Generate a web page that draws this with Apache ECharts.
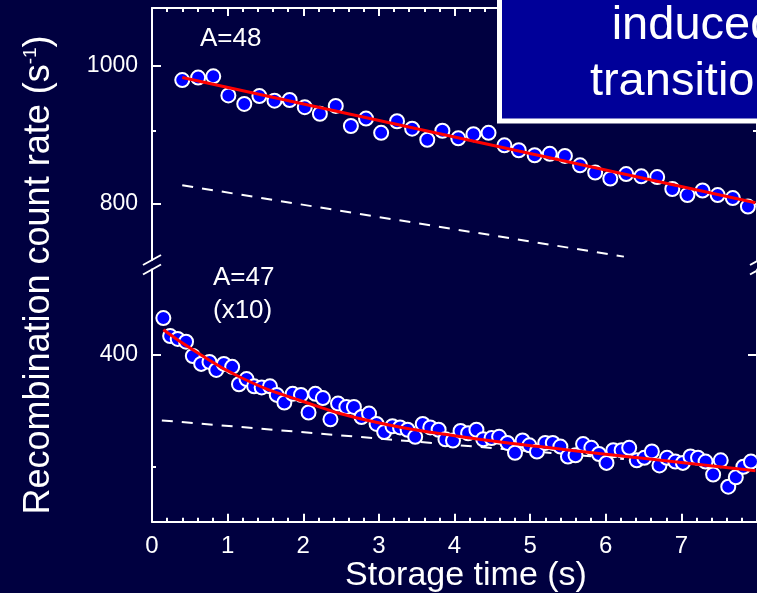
<!DOCTYPE html>
<html>
<head>
<meta charset="utf-8">
<script src="https://cdn.jsdelivr.net/npm/echarts@6/dist/echarts.min.js"></script>
<style>
  html, body { margin: 0; padding: 0; background: #000040; }
  #chart { width: 757px; height: 593px; }
</style>
</head>
<body>
<div id="chart"></div>
<script>
// ---- A=48: storage time (s) and recombination count rate (1/s)
const timeA48 = [0.40,0.61,0.81,1.01,1.22,1.42,1.62,1.82,2.02,2.22,2.43,2.63,2.83,3.03,3.24,3.44,3.64,3.84,4.05,4.25,
                 4.45,4.66,4.85,5.06,5.26,5.46,5.66,5.86,6.06,6.27,6.47,6.68,6.88,7.08,7.28,7.48,7.68,7.88];
const rateA48 = [977,981,983,953,940,952,945,946,935,925,937,907,918,897,914,903,887,900,889,895,
                 897,879,872,865,867,864,851,841,833,839,836,835,819,811,817,811,807,796];
// exponential fit (straight on the log scale) and the slow component
const fitTimeA48 = [0.40, 7.98];
const fitRateA48 = [981, 801];
const compTimeA48 = [0.40, 6.24];
const compRateA48 = [824, 734];

// ---- A=47, rates multiplied by 10
const timeA47 = [0.15,0.24,0.34,0.45,0.54,0.65,0.76,0.85,0.95,1.06,1.15,1.25,1.35,1.45,1.56,1.65,1.75,1.86,1.97,2.07,
                 2.16,2.26,2.36,2.46,2.57,2.67,2.77,2.87,2.97,3.07,3.18,3.28,3.38,3.48,3.58,3.68,3.79,3.88,3.98,4.08,
                 4.18,4.29,4.38,4.49,4.59,4.70,4.80,4.90,4.99,5.09,5.20,5.30,5.40,5.50,5.60,5.70,5.81,5.91,6.01,6.10,
                 6.21,6.31,6.41,6.51,6.61,6.71,6.81,6.92,7.02,7.12,7.22,7.32,7.42,7.52,7.62,7.72,7.82,7.92];
const rateA47 = [440,420,417,414,399,391,393,385,391,388,371,376,369,368,369,361,354,362,361,345,
                 362,358,339,353,350,350,341,344,335,328,333,332,330,324,335,332,330,322,321,329,
                 327,330,322,323,324,319,311,321,317,312,319,319,316,308,309,318,315,310,303,313,
                 313,315,305,307,312,301,307,304,303,308,307,304,294,305,285,292,300,304];
const fitTimeA47 = [0.15, 0.55, 1.16, 1.95, 2.92, 4.00, 5.12, 6.43, 7.98];
const fitRateA47 = [427, 405, 378, 356, 337, 325, 316, 307, 297];
const compTimeA47 = [0.13, 6.24];
const compRateA47 = [338, 306];

// ---- axes
const xMin = 0, xMax = 8, xStep = 1;
const topRange = [730, 1098];
const topMajor = [800, 1000];
const topMinor = [900];
const bottomRange = [260.4, 498.6];
const bottomMajor = [400];
const bottomMinor = [300];

const FONT = '"Liberation Sans", Arial, Helvetica, sans-serif';
const WHITE = '#ffffff';
const lg = Math.log10;
const pairs = (t, v) => t.map((x, i) => [x, lg(v[i])]);

const line2 = { color: WHITE, width: 2 };

function xAxisFor(gridIndex, position, showLabels) {
  return {
    type: 'value', gridIndex, position, min: xMin, max: xMax, interval: xStep,
    axisLine: { show: true, onZero: false, lineStyle: line2 },
    axisTick: { show: true, inside: true, length: 8, lineStyle: line2 },
    minorTick: { show: true, splitNumber: 5, length: 4, lineStyle: line2 },
    splitLine: { show: false }, minorSplitLine: { show: false },
    axisLabel: {
      show: showLabels, color: WHITE, fontSize: 24, fontFamily: FONT, margin: 13,
      showMaxLabel: false
    }
  };
}

function yAxesFor(gridIndex, range, major, minor) {
  const base = {
    type: 'value', gridIndex, min: lg(range[0]), max: lg(range[1]),
    splitLine: { show: false }
  };
  const ax = [];
  ['left', 'right'].forEach(pos => {
    ax.push(Object.assign({}, base, {
      position: pos,
      axisLine: { show: true, onZero: false, lineStyle: line2 },
      axisTick: { show: true, inside: true, length: 9, customValues: major.map(lg), lineStyle: line2 },
      axisLabel: {
        show: pos === 'left', customValues: major.map(lg), color: WHITE, fontSize: 23,
        fontFamily: FONT, margin: 14,
        formatter: v => String(Math.round(Math.pow(10, v)))
      }
    }));
    ax.push(Object.assign({}, base, {
      position: pos,
      axisLine: { show: false, onZero: false },
      axisTick: { show: true, inside: true, length: 4, customValues: minor.map(lg), lineStyle: line2 },
      axisLabel: { show: false }
    }));
  });
  return ax;
}

const yAxes = yAxesFor(0, topRange, topMajor, topMinor).concat(yAxesFor(1, bottomRange, bottomMajor, bottomMinor));

const dots = {
  type: 'scatter', symbol: 'circle', symbolSize: 14, z: 3,
  itemStyle: { color: '#0000ff', borderColor: WHITE, borderWidth: 2, opacity: 1 }
};
const fitLine = { type: 'line', showSymbol: false, symbol: 'none', z: 4, lineStyle: { color: '#ff0000', width: 3 } };
const compLine = { type: 'line', showSymbol: false, symbol: 'none', z: 2, lineStyle: { color: WHITE, width: 2, type: [11, 9] } };

// axis-break marks on both frame sides
function breakMarks(x) {
  return [
    { type: 'line', shape: { x1: x - 9, y1: 265, x2: x + 9, y2: 255 }, style: { stroke: WHITE, lineWidth: 2 }, z: 100 },
    { type: 'line', shape: { x1: x - 9, y1: 274.5, x2: x + 9, y2: 264.5 }, style: { stroke: WHITE, lineWidth: 2 }, z: 100 }
  ];
}

const option = {
  backgroundColor: '#000040',
  animation: false,
  grid: [
    { left: 152, top: 8, width: 607, height: 252 },
    { left: 152, top: 269.5, width: 607, height: 252.2 }
  ],
  xAxis: [xAxisFor(0, 'top', false), xAxisFor(1, 'bottom', true)],
  yAxis: yAxes,
  series: [
    Object.assign({}, compLine, { xAxisIndex: 0, yAxisIndex: 0, data: pairs(compTimeA48, compRateA48) }),
    Object.assign({}, dots, { xAxisIndex: 0, yAxisIndex: 0, data: pairs(timeA48, rateA48) }),
    Object.assign({}, fitLine, { xAxisIndex: 0, yAxisIndex: 0, data: pairs(fitTimeA48, fitRateA48) }),
    Object.assign({}, compLine, { xAxisIndex: 1, yAxisIndex: 4, data: pairs(compTimeA47, compRateA47) }),
    Object.assign({}, dots, { xAxisIndex: 1, yAxisIndex: 4, data: pairs(timeA47, rateA47) }),
    Object.assign({}, fitLine, { xAxisIndex: 1, yAxisIndex: 4, smooth: true, data: pairs(fitTimeA47, fitRateA47) })
  ],
  graphic: [
    ...breakMarks(152),
    ...breakMarks(759),
    {
      type: 'rect', z: 200,
      shape: { x: 499.5, y: -10, width: 320, height: 131 },
      style: { fill: '#000099', stroke: WHITE, lineWidth: 5 }
    },
    {
      type: 'text', z: 201, x: 694, y: 26,
      style: { text: 'induced', fill: WHITE, font: '47px ' + FONT, align: 'center', verticalAlign: 'middle' }
    },
    {
      type: 'text', z: 201, x: 697, y: 82,
      style: { text: 'transitions', fill: WHITE, font: '47px ' + FONT, align: 'center', verticalAlign: 'middle' }
    },
    {
      type: 'text', z: 50, x: 200, y: 39,
      style: { text: 'A=48', fill: WHITE, font: '26px ' + FONT, align: 'left', verticalAlign: 'middle' }
    },
    {
      type: 'text', z: 50, x: 213, y: 278,
      style: { text: 'A=47', fill: WHITE, font: '26px ' + FONT, align: 'left', verticalAlign: 'middle' }
    },
    {
      type: 'text', z: 50, x: 213, y: 311,
      style: { text: '(x10)', fill: WHITE, font: '26px ' + FONT, align: 'left', verticalAlign: 'middle' }
    },
    {
      type: 'text', z: 50, x: 466, y: 576,
      style: { text: 'Storage time (s)', fill: WHITE, font: '34px ' + FONT, align: 'center', verticalAlign: 'middle' }
    },
    {
      type: 'text', z: 50, x: 39, y: 275, rotation: Math.PI / 2,
      style: {
        text: '{a|Recombination count rate (s}{b|-1}{a|)}',
        align: 'center', verticalAlign: 'middle',
        rich: {
          a: { fontSize: 36, fontFamily: FONT, fill: WHITE },
          b: { fontSize: 19, fontFamily: FONT, fill: WHITE, verticalAlign: 'top' }
        }
      }
    }
  ]
};

const chart = echarts.init(document.getElementById('chart'), null, { renderer: 'canvas' });
chart.setOption(option);
</script>
</body>
</html>
